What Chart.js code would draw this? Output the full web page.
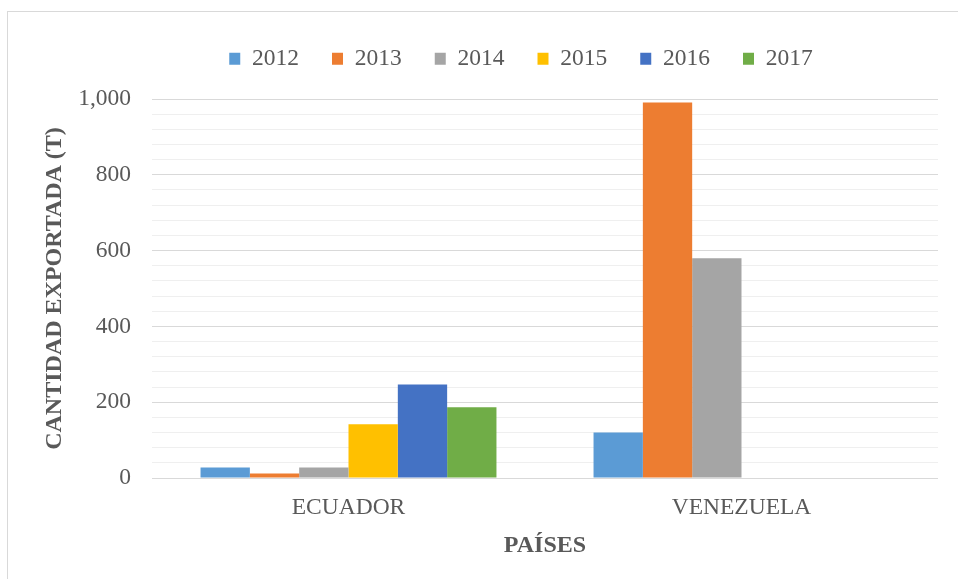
<!DOCTYPE html>
<html>
<head>
<meta charset="utf-8">
<title>Cantidad exportada por país</title>
<script src="https://cdn.jsdelivr.net/npm/chart.js@4/dist/chart.umd.min.js"></script>
<style>
  html, body { margin: 0; padding: 0; background: #fff; overflow: hidden; }
  #wrap { position: relative; width: 958px; height: 579px; }
  #frame { position: absolute; left: 7px; top: 11px; width: 1000px; height: 1000px;
           border: 1px solid #d9d9d9; box-sizing: border-box; pointer-events: none; }
</style>
</head>
<body>
<div id="wrap">
  <canvas id="myChart"></canvas>
  <div id="frame"></div>
</div>
<script>
// data
var countries = ["ECUADOR", "VENEZUELA"];
var years = ["2012", "2013", "2014", "2015", "2016", "2017"];
var v2012 = [28, 120];
var v2013 = [12, 991];
var v2014 = [28, 580];
var v2015 = [142, 0];
var v2016 = [247, 0];
var v2017 = [187, 0];
var yTickLabels = [0, 200, 400, 600, 800, 1000];

var colors = ["#5B9BD5", "#ED7D31", "#A5A5A5", "#FFC000", "#4472C4", "#70AD47"];
var values = [v2012, v2013, v2014, v2015, v2016, v2017];

var serif = "'Liberation Serif', 'Times New Roman', serif";
var textColor = "#595959";

var datasets = years.map(function (y, i) {
    return {
        label: y,
        data: values[i],
        backgroundColor: colors[i],
        borderWidth: 0,
        categoryPercentage: 0.753,
        barPercentage: 1.0
    };
});

// fixed legend height + small shift right, like the original
var legendTweak = {
    id: "legendTweak",
    beforeLayout: function (chart) {
        var lg = chart.legend;
        if (lg && !lg._patched) {
            var fit = lg.fit;
            lg.fit = function () {
                fit.call(this);
                this.height = 85;
            };
            lg._patched = true;
        }
    },
    afterLayout: function (chart) {
        chart.legend.left += 32;
        chart.legend.right += 32;
    }
};

new Chart("myChart", {
    type: "bar",
    data: { labels: countries, datasets: datasets },
    plugins: [legendTweak],
    options: {
        responsive: true,
        maintainAspectRatio: false,
        animation: false,
        layout: { padding: { left: 40, right: 20, top: 14, bottom: 13 } },
        plugins: {
            tooltip: { enabled: false },
            legend: {
                position: "top",
                labels: {
                    boxWidth: 11,
                    boxHeight: 12,
                    padding: 33,
                    color: textColor,
                    font: { family: serif, size: 23.5 }
                }
            }
        },
        scales: {
            x: {
                grid: { display: false },
                border: { display: false },
                ticks: { color: textColor, padding: 8, font: { family: serif, size: 23.5 } },
                title: {
                    display: true,
                    text: "PAÍSES",
                    color: textColor,
                    padding: { top: 0, bottom: 5.6 },
                    font: { family: serif, size: 24, weight: "bold" }
                },
                afterFit: function (scale) { scale.height = 88; }
            },
            y: {
                min: 0,
                max: 1000,
                border: { display: false },
                grid: {
                    drawTicks: false,
                    color: function (ctx) {
                        return yTickLabels.includes(ctx.tick.value) ? "#d9d9d9" : "#efefef";
                    }
                },
                ticks: {
                    stepSize: 40,
                    autoSkip: false,
                    padding: 21,
                    color: textColor,
                    font: { family: serif, size: 23.5 },
                    callback: function (v) {
                        return yTickLabels.includes(v) ? v.toLocaleString("en-US") : "";
                    }
                },
                title: {
                    display: true,
                    text: "CANTIDAD EXPORTADA (T)",
                    color: textColor,
                    padding: { top: 0.6, bottom: 0 },
                    font: { family: serif, size: 24, weight: "bold" }
                },
                afterFit: function (scale) { scale.width = 112; }
            }
        }
    }
});
</script>
</body>
</html>
